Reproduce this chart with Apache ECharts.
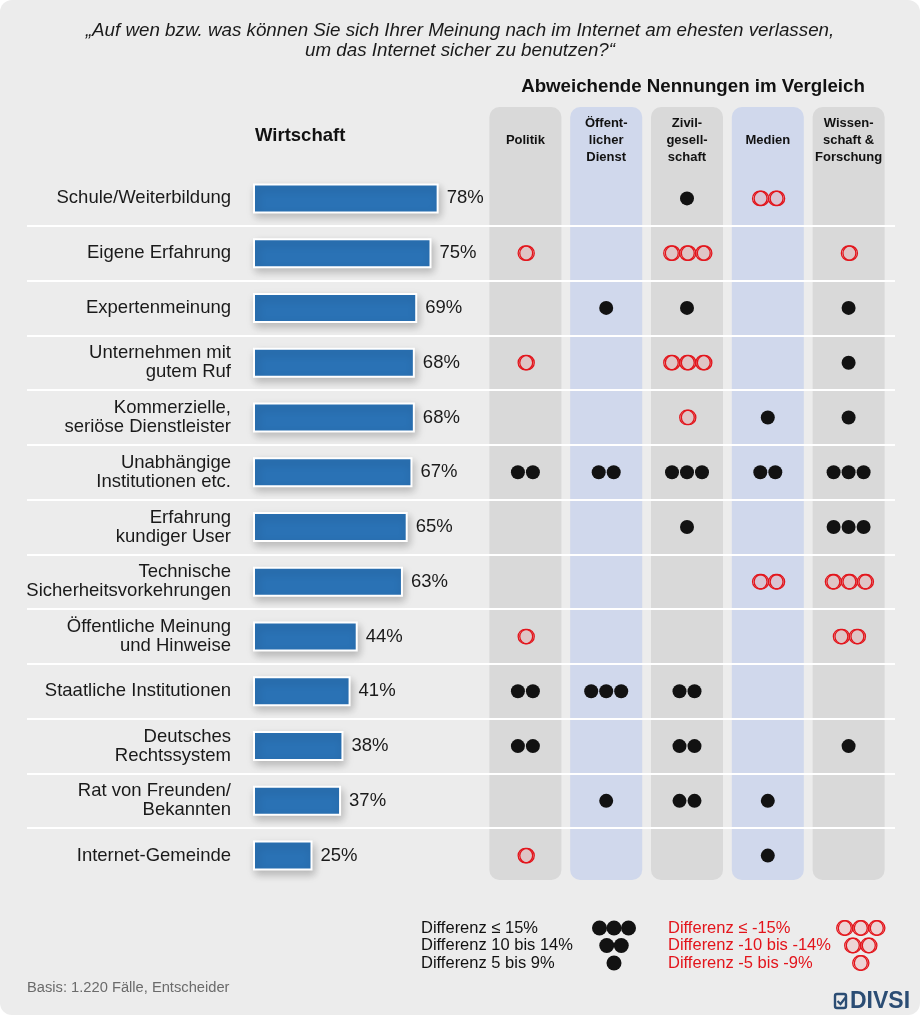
<!DOCTYPE html>
<html>
<head>
<meta charset="utf-8">
<title>Vertrauen im Internet - Wirtschaft</title>
<script src="https://cdn.jsdelivr.net/npm/echarts@6/dist/echarts.min.js"></script>
<style>
  html, body { margin: 0; background: #fff; }
  #main { width: 920px; height: 1015px; background: #ececec; border-radius: 12px; }
</style>
</head>
<body>
<div id="main"></div>
<script>
// Antwortkategorien (von oben nach unten)
const categories = [
  'Schule/Weiterbildung', 'Eigene Erfahrung', 'Expertenmeinung',
  'Unternehmen mit\ngutem Ruf', 'Kommerzielle,\nseriöse Dienstleister',
  'Unabhängige\nInstitutionen etc.', 'Erfahrung\nkundiger User',
  'Technische\nSicherheitsvorkehrungen', 'Öffentliche Meinung\nund Hinweise',
  'Staatliche Institutionen', 'Deutsches\nRechtssystem',
  'Rat von Freunden/\nBekannten', 'Internet-Gemeinde'
];
// Wirtschaft, Anteil in %
const wirtschaft = [78, 75, 69, 68, 68, 67, 65, 63, 44, 41, 38, 37, 25];

// Vergleichsgruppen
const groups = ['Politik', 'Öffentlicher Dienst', 'Zivilgesellschaft', 'Medien', 'Wissenschaft & Forschung'];
const groupHeaders = ['\nPolitik', 'Öffent-\nlicher\nDienst', 'Zivil-\ngesell-\nschaft', '\nMedien', 'Wissen-\nschaft &\nForschung'];

// Abweichung je Gruppe: 3/2/1 = ●●●/●●/●, -1/-2/-3 = ❍/❍❍/❍❍❍, 0 = keine
const politik      = [ 0, -1, 0, -1,  0, 2, 0,  0, -1, 2, 2, 0, -1];
const oeffDienst   = [ 0,  0, 1,  0,  0, 2, 0,  0,  0, 3, 0, 1,  0];
const zivil        = [ 1, -3, 1, -3, -1, 3, 1,  0,  0, 2, 2, 2,  0];
const medien       = [-2,  0, 0,  0,  1, 2, 0, -2,  0, 0, 0, 1,  1];
const wissenschaft = [ 0, -1, 1,  1,  1, 3, 3, -3, -2, 0, 1, 0,  0];

const legendPlus = ['Differenz ≤ 15%', 'Differenz 10 bis 14%', 'Differenz 5 bis 9%'];
const legendMinus = ['Differenz ≤ -15%', 'Differenz -10 bis -14%', 'Differenz -5 bis -9%'];

const FONT = '"Liberation Sans", Arial, sans-serif';
const RED = '#e3141b';
const DOT = '#121212';

// Punkte je Zelle aufbauen
const deviations = [politik, oeffDienst, zivil, medien, wissenschaft];
const plusDots = [], minusDots = [];
deviations.forEach((col, c) => {
  col.forEach((lvl, r) => {
    const n = Math.abs(lvl);
    const gap = lvl > 0 ? 15 : 16;
    for (let i = 0; i < n; i++) {
      const item = { value: [c, r], symbolOffset: [(i - (n - 1) / 2) * gap, 0] };
      (lvl > 0 ? plusDots : minusDots).push(item);
    }
  });
});

const ringStyle = {
  stroke: RED, lineWidth: 1.3, fill: 'rgba(255,255,255,0.15)',
  shadowColor: RED, shadowOffsetX: 1.6, shadowBlur: 0
};

// Legende unten
const legendGraphics = [];
[3, 2, 1].forEach((n, k) => {
  const y = 928 + k * 17.5;
  legendGraphics.push({ type: 'text', x: 421, y: y,
    style: { text: legendPlus[k], fontSize: 16.5, fontFamily: FONT, fill: '#111', verticalAlign: 'middle' } });
  legendGraphics.push({ type: 'text', x: 668, y: y,
    style: { text: legendMinus[k], fontSize: 16.5, fontFamily: FONT, fill: RED, verticalAlign: 'middle' } });
  for (let i = 0; i < n; i++) {
    legendGraphics.push({ type: 'circle', shape: { cx: 614 + (i - (n - 1) / 2) * 14.5, cy: y, r: 7.5 },
      style: { fill: DOT } });
    legendGraphics.push({ type: 'circle', shape: { cx: 860 + (i - (n - 1) / 2) * 16, cy: y, r: 7.3 },
      style: ringStyle });
  }
});

const chart = echarts.init(document.getElementById('main'));

const option = {
  backgroundColor: 'transparent',
  animation: false,
  grid: [
    { left: 253, width: 238, top: 171, height: 712 },   // Balken
    { left: 27, right: 25, top: 171, height: 712 },     // Trennlinien
    { left: 485, width: 404, top: 171, height: 712 },   // Punkte
    { left: 485, width: 404, top: 107, height: 773 }    // Spaltenhintergrund
  ],
  xAxis: [
    { gridIndex: 0, type: 'value', min: 0, max: 100, show: false },
    { gridIndex: 1, type: 'value', min: 0, max: 1, show: false },
    { gridIndex: 2, type: 'category', data: groups, show: false },
    { gridIndex: 3, type: 'category', data: groups, show: false }
  ],
  yAxis: [
    {
      gridIndex: 0, type: 'category', data: categories, inverse: true,
      axisLine: { show: false }, axisTick: { show: false },
      axisLabel: { margin: 22, fontSize: 18.5, lineHeight: 19, color: '#1a1a1a', fontFamily: FONT }
    },
    {
      gridIndex: 1, type: 'value', min: 0, max: 13, interval: 1, inverse: true, z: 3,
      axisLine: { show: false }, axisTick: { show: false }, axisLabel: { show: false },
      splitLine: { show: true, showMinLine: false, showMaxLine: false, lineStyle: { color: '#ffffff', width: 2 } }
    },
    { gridIndex: 2, type: 'category', data: categories, inverse: true, show: false },
    { gridIndex: 3, type: 'value', min: 0, max: 1, show: false }
  ],
  graphic: [
    { type: 'text', x: 460, y: 21, style: {
      text: '„Auf wen bzw. was können Sie sich Ihrer Meinung nach im Internet am ehesten verlassen,\num das Internet sicher zu benutzen?“',
      fontSize: 18.8, fontStyle: 'italic', fontFamily: FONT, fill: '#1a1a1a', align: 'center', verticalAlign: 'top', lineHeight: 20 } },
    { type: 'text', x: 693, y: 87, style: {
      text: 'Abweichende Nennungen im Vergleich', fontSize: 18.7, fontWeight: 'bold', fontFamily: FONT,
      fill: '#111', align: 'center', verticalAlign: 'middle' } },
    { type: 'text', x: 255, y: 136, style: {
      text: 'Wirtschaft', fontSize: 18.5, fontWeight: 'bold', fontFamily: FONT,
      fill: '#111', verticalAlign: 'middle' } },
    { type: 'text', x: 27, y: 988, style: {
      text: 'Basis: 1.220 Fälle, Entscheider', fontSize: 14.7, fontFamily: FONT,
      fill: '#6b6b6b', verticalAlign: 'middle' } },
    // DIVSI Logo
    { type: 'rect', shape: { x: 835, y: 994, width: 11, height: 14, r: 2 },
      style: { fill: 'none', stroke: '#2b4d74', lineWidth: 2.4 } },
    { type: 'polyline', shape: { points: [[837.5, 1001], [840.5, 1004], [846, 997]] },
      style: { fill: 'none', stroke: '#2b4d74', lineWidth: 2.2 } },
    { type: 'text', x: 850, y: 1002, style: {
      text: 'DIVSI', fontSize: 23, fontWeight: 'bold', fontFamily: FONT,
      fill: '#2b4d74', verticalAlign: 'middle' } }
  ].concat(legendGraphics),
  series: [
    {
      name: 'Spalten', type: 'bar', xAxisIndex: 3, yAxisIndex: 3, z: 1,
      barWidth: 72, silent: true,
      data: groups.map((g, i) => ({
        value: 1,
        itemStyle: { color: i % 2 ? '#d0d8ec' : '#d9d9d9', borderRadius: 10 },
        label: { formatter: groupHeaders[i] }
      })),
      label: {
        show: true, position: 'insideTop', distance: 8,
        fontSize: 13, fontWeight: 'bold', lineHeight: 17, color: '#111', fontFamily: FONT, align: 'center'
      }
    },
    { name: 'Linien', type: 'line', xAxisIndex: 1, yAxisIndex: 1, data: [] },
    {
      name: 'Wirtschaft', type: 'bar', xAxisIndex: 0, yAxisIndex: 0, z: 4,
      data: wirtschaft, barWidth: 30,
      itemStyle: {
        color: '#2a72b5', borderColor: '#ffffff', borderWidth: 2,
        shadowBlur: 8, shadowColor: 'rgba(0,0,0,0.22)', shadowOffsetX: 2, shadowOffsetY: 4
      },
      label: {
        show: true, position: 'right', distance: 8, formatter: '{c}%',
        fontSize: 18.5, color: '#1a1a1a', fontFamily: FONT
      }
    },
    {
      name: 'positiv', type: 'scatter', xAxisIndex: 2, yAxisIndex: 2, z: 6,
      symbol: 'circle', symbolSize: 14, data: plusDots,
      itemStyle: { color: DOT, opacity: 1 }
    },
    {
      name: 'negativ', type: 'scatter', xAxisIndex: 2, yAxisIndex: 2, z: 6,
      symbol: 'circle', symbolSize: 14.5, data: minusDots,
      itemStyle: {
        color: 'rgba(255,255,255,0.15)', borderColor: RED, borderWidth: 1.3, opacity: 1,
        shadowColor: RED, shadowOffsetX: 1.6, shadowBlur: 0
      }
    }
  ]
};

chart.setOption(option);
</script>
</body>
</html>
